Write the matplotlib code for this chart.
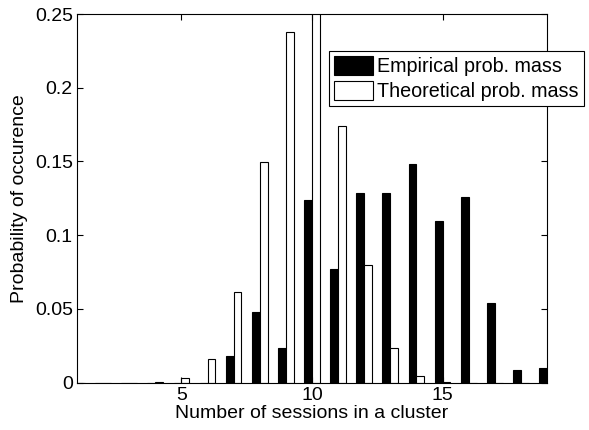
import numpy as np
import matplotlib
matplotlib.use("Agg")
import matplotlib.pyplot as plt

# ── Data ─────────────────────────────────────────────────────────────
sizes = np.arange(1, 20)
empirical = [0, 0, 0, 0, 0, 0, 0.018, 0.048, 0.0235, 0.124, 0.0773, 0.1288,
             0.1284, 0.1483, 0.1098, 0.1259, 0.0538, 0.0084, 0.010]
theoretical = [0, 0, 0, 0.0005, 0.003, 0.0163, 0.0613, 0.1494, 0.2376, 0.256,
               0.174, 0.0798, 0.0237, 0.0045, 0.0006, 0, 0, 0, 0]
labels = ["Empirical prob. mass", "Theoretical prob. mass"]
yticks = [0, 0.05, 0.1, 0.15, 0.2, 0.25]
ytick_labels = ["0", "0.05", "0.1", "0.15", "0.2", "0.25"]

plt.rcParams["font.family"] = ["Liberation Sans", "DejaVu Sans"]
plt.rcParams["font.size"] = 14

fig = plt.figure(figsize=(5.89, 4.30), dpi=100)
ax = fig.add_axes([0.1307, 0.110, 0.798, 0.8574])

w = 0.30
ax.bar(sizes - w / 2, empirical, width=w, color="black", edgecolor="black",
       linewidth=0.8, label=labels[0])
ax.bar(sizes + w / 2, theoretical, width=w, color="white", edgecolor="black",
       linewidth=0.8, label=labels[1])

ax.set_xlim(1, 19)
ax.set_ylim(0, 0.25)
ax.set_xticks([5, 10, 15])
ax.set_yticks(yticks)
ax.set_yticklabels(ytick_labels)
ax.tick_params(direction="in", top=True, right=True, length=4, width=0.8,
               pad=3)
for sp in ax.spines.values():
    sp.set_linewidth(0.8)

ax.set_xlabel("Number of sessions in a cluster", labelpad=1)
ax.set_ylabel("Probability of occurence", labelpad=5)

# legend sticks out past the right spine, as in the original
leg = ax.legend(loc="upper left", bbox_to_anchor=(329 / 589, 1 - 51 / 430),
                bbox_transform=fig.transFigure, fancybox=False, framealpha=1,
                edgecolor="black", borderaxespad=0, borderpad=0.25,
                handlelength=2.0, handleheight=1.1, handletextpad=0.2,
                labelspacing=0.25, fontsize=14.2)
leg.get_frame().set_linewidth(0.8)
leg.set_clip_on(False)

fig.savefig("out.png", dpi=100)
